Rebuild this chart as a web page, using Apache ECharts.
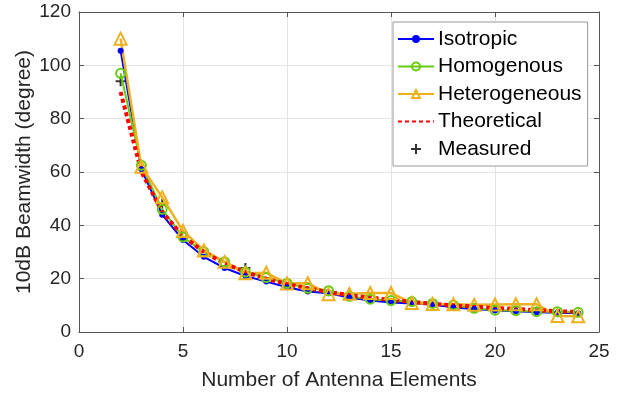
<!DOCTYPE html>
<html>
<head>
<meta charset="utf-8">
<script src="https://cdn.jsdelivr.net/npm/echarts@6/dist/echarts.min.js"></script>
<style>
  html, body { margin: 0; padding: 0; background: #fff; }
  #chart { width: 624px; height: 394px; }
</style>
</head>
<body>
<div id="chart"></div>
<script>
// Number of antenna elements
const elements = [2, 3, 4, 5, 6, 7, 8, 9, 10, 11, 12, 13, 14, 15, 16, 17, 18, 19, 20, 21, 22, 23, 24];

// 10 dB beamwidth (degree) per array type
const isotropic = [105.5, 61, 44, 34.5, 28.2, 24, 21, 18.9, 16.8, 15.2, 14.5, 12.9, 11.8, 11.1, 10.7, 10.3, 9.2, 8.6, 8.1, 7.8, 7.4, 7.2, 7.0];
const homogenous = [97, 62.5, 46, 35.6, 30.1, 26.3, 22.5, 20.4, 18.3, 16.4, 15.5, 13.4, 12.3, 11.8, 11.4, 10.7, 10.1, 8.9, 8.2, 8.0, 7.6, 7.6, 7.4];
const heterogeneous = [110, 62, 50.5, 37.9, 30.6, 26.3, 22, 22.2, 18.2, 18.3, 14.2, 14.3, 14.6, 14.6, 10.9, 10.5, 10.4, 10.2, 10.3, 10.4, 10.4, 6.0, 5.9];
const theoretical = [90, 60, 45, 36, 30, 25.7, 22.5, 20, 18, 16.4, 15, 13.8, 12.9, 12, 11.3, 10.6, 10, 9.5, 9, 8.6, 8.2, 7.8, 7.5];

// Measured prototypes
const measuredElements = [2, 4, 8];
const measured = [94, 48, 24];

const xTicks = [0, 5, 10, 15, 20, 25];
const yTicks = [0, 20, 40, 60, 80, 100, 120];

const pair = (xs, ys) => xs.map((x, i) => [x, ys[i]]);

const FONT = '"Liberation Sans", Arial, sans-serif';
const AXIS_COLOR = '#555';
const TEXT_COLOR = '#262626';
const plusPath = 'path://M-1,-5 L1,-5 L1,-1 L5,-1 L5,1 L1,1 L1,5 L-1,5 L-1,1 L-5,1 L-5,-1 L-1,-1 Z';

const chart = echarts.init(document.getElementById('chart'), null, { renderer: 'canvas' });

const baseAxis = {
  axisLine: { show: true, onZero: false, lineStyle: { color: AXIS_COLOR, width: 1 } },
  axisTick: { show: true, inside: true, length: 5, lineStyle: { color: AXIS_COLOR } },
  minorTick: { show: false },
  nameMoveOverlap: false
};

chart.setOption({
  animation: false,
  backgroundColor: '#fff',
  textStyle: { fontFamily: FONT },
  grid: { left: 79, right: 25, top: 12, bottom: 62, containLabel: false, outerBoundsMode: 'none' },
  xAxis: [
    Object.assign({}, baseAxis, {
      type: 'value', min: xTicks[0], max: xTicks[xTicks.length - 1], interval: 5,
      position: 'bottom',
      name: 'Number of Antenna Elements', nameLocation: 'middle', nameGap: 38,
      nameTextStyle: { fontSize: 21, color: TEXT_COLOR, fontFamily: FONT },
      axisLabel: { fontSize: 19, color: TEXT_COLOR, margin: 10, fontFamily: FONT },
      splitLine: { show: true, lineStyle: { color: '#e3e3e3', width: 1 } }
    }),
    Object.assign({}, baseAxis, {
      type: 'value', min: xTicks[0], max: xTicks[xTicks.length - 1], interval: 5,
      position: 'top', axisLabel: { show: false }, splitLine: { show: false }
    })
  ],
  yAxis: [
    Object.assign({}, baseAxis, {
      type: 'value', min: yTicks[0], max: yTicks[yTicks.length - 1], interval: 20,
      position: 'left',
      name: '10dB Beamwidth (degree)', nameLocation: 'middle', nameGap: 44,
      nameTextStyle: { fontSize: 21, color: TEXT_COLOR, fontFamily: FONT },
      axisLabel: { fontSize: 19, color: TEXT_COLOR, margin: 8, fontFamily: FONT },
      splitLine: { show: true, lineStyle: { color: '#e3e3e3', width: 1 } }
    }),
    Object.assign({}, baseAxis, {
      type: 'value', min: yTicks[0], max: yTicks[yTicks.length - 1], interval: 20,
      position: 'right', axisLabel: { show: false }, splitLine: { show: false }
    })
  ],
  legend: {
    orient: 'vertical',
    left: 393, top: 22,
    backgroundColor: '#fff',
    borderColor: '#999', borderWidth: 1,
    padding: [5, 6, 5, 4],
    itemWidth: 36, itemHeight: 10, itemGap: 3.5,
    textStyle: { fontSize: 21, color: '#000', fontFamily: FONT, lineHeight: 24, padding: [0, 0, 0, -1] },
    data: [
      'Isotropic',
      'Homogenous',
      'Heterogeneous',
      { name: 'Theoretical', itemStyle: { opacity: 0 } },
      { name: 'Measured', itemStyle: { color: '#000' } }
    ]
  },
  series: [
    {
      name: 'Isotropic', type: 'line', data: pair(elements, isotropic),
      symbol: 'circle', symbolSize: 6,
      itemStyle: { color: '#0000ff' },
      lineStyle: { color: '#0000ff', width: 2 }
    },
    {
      name: 'Homogenous', type: 'line', data: pair(elements, homogenous),
      symbol: 'circle', symbolSize: 9,
      itemStyle: { color: 'rgba(0,0,0,0)', borderColor: '#66cc11', borderWidth: 2 },
      lineStyle: { color: '#66cc11', width: 2 }
    },
    {
      name: 'Heterogeneous', type: 'line', data: pair(elements, heterogeneous),
      symbol: 'triangle', symbolSize: 12,
      itemStyle: { color: 'rgba(0,0,0,0)', borderColor: '#edb120', borderWidth: 2 },
      lineStyle: { color: '#edb120', width: 2.5 }
    },
    {
      name: 'Theoretical', type: 'line', data: pair(elements, theoretical),
      showSymbol: false, symbol: 'none',
      itemStyle: { color: '#ff0000' },
      lineStyle: { color: '#ff0000', width: 4, type: [4, 3], cap: 'butt' }
    },
    {
      name: 'Measured', type: 'scatter', data: pair(measuredElements, measured),
      symbol: plusPath, symbolSize: 10,
      itemStyle: { color: '#000' }
    }
  ]
});
</script>
</body>
</html>
